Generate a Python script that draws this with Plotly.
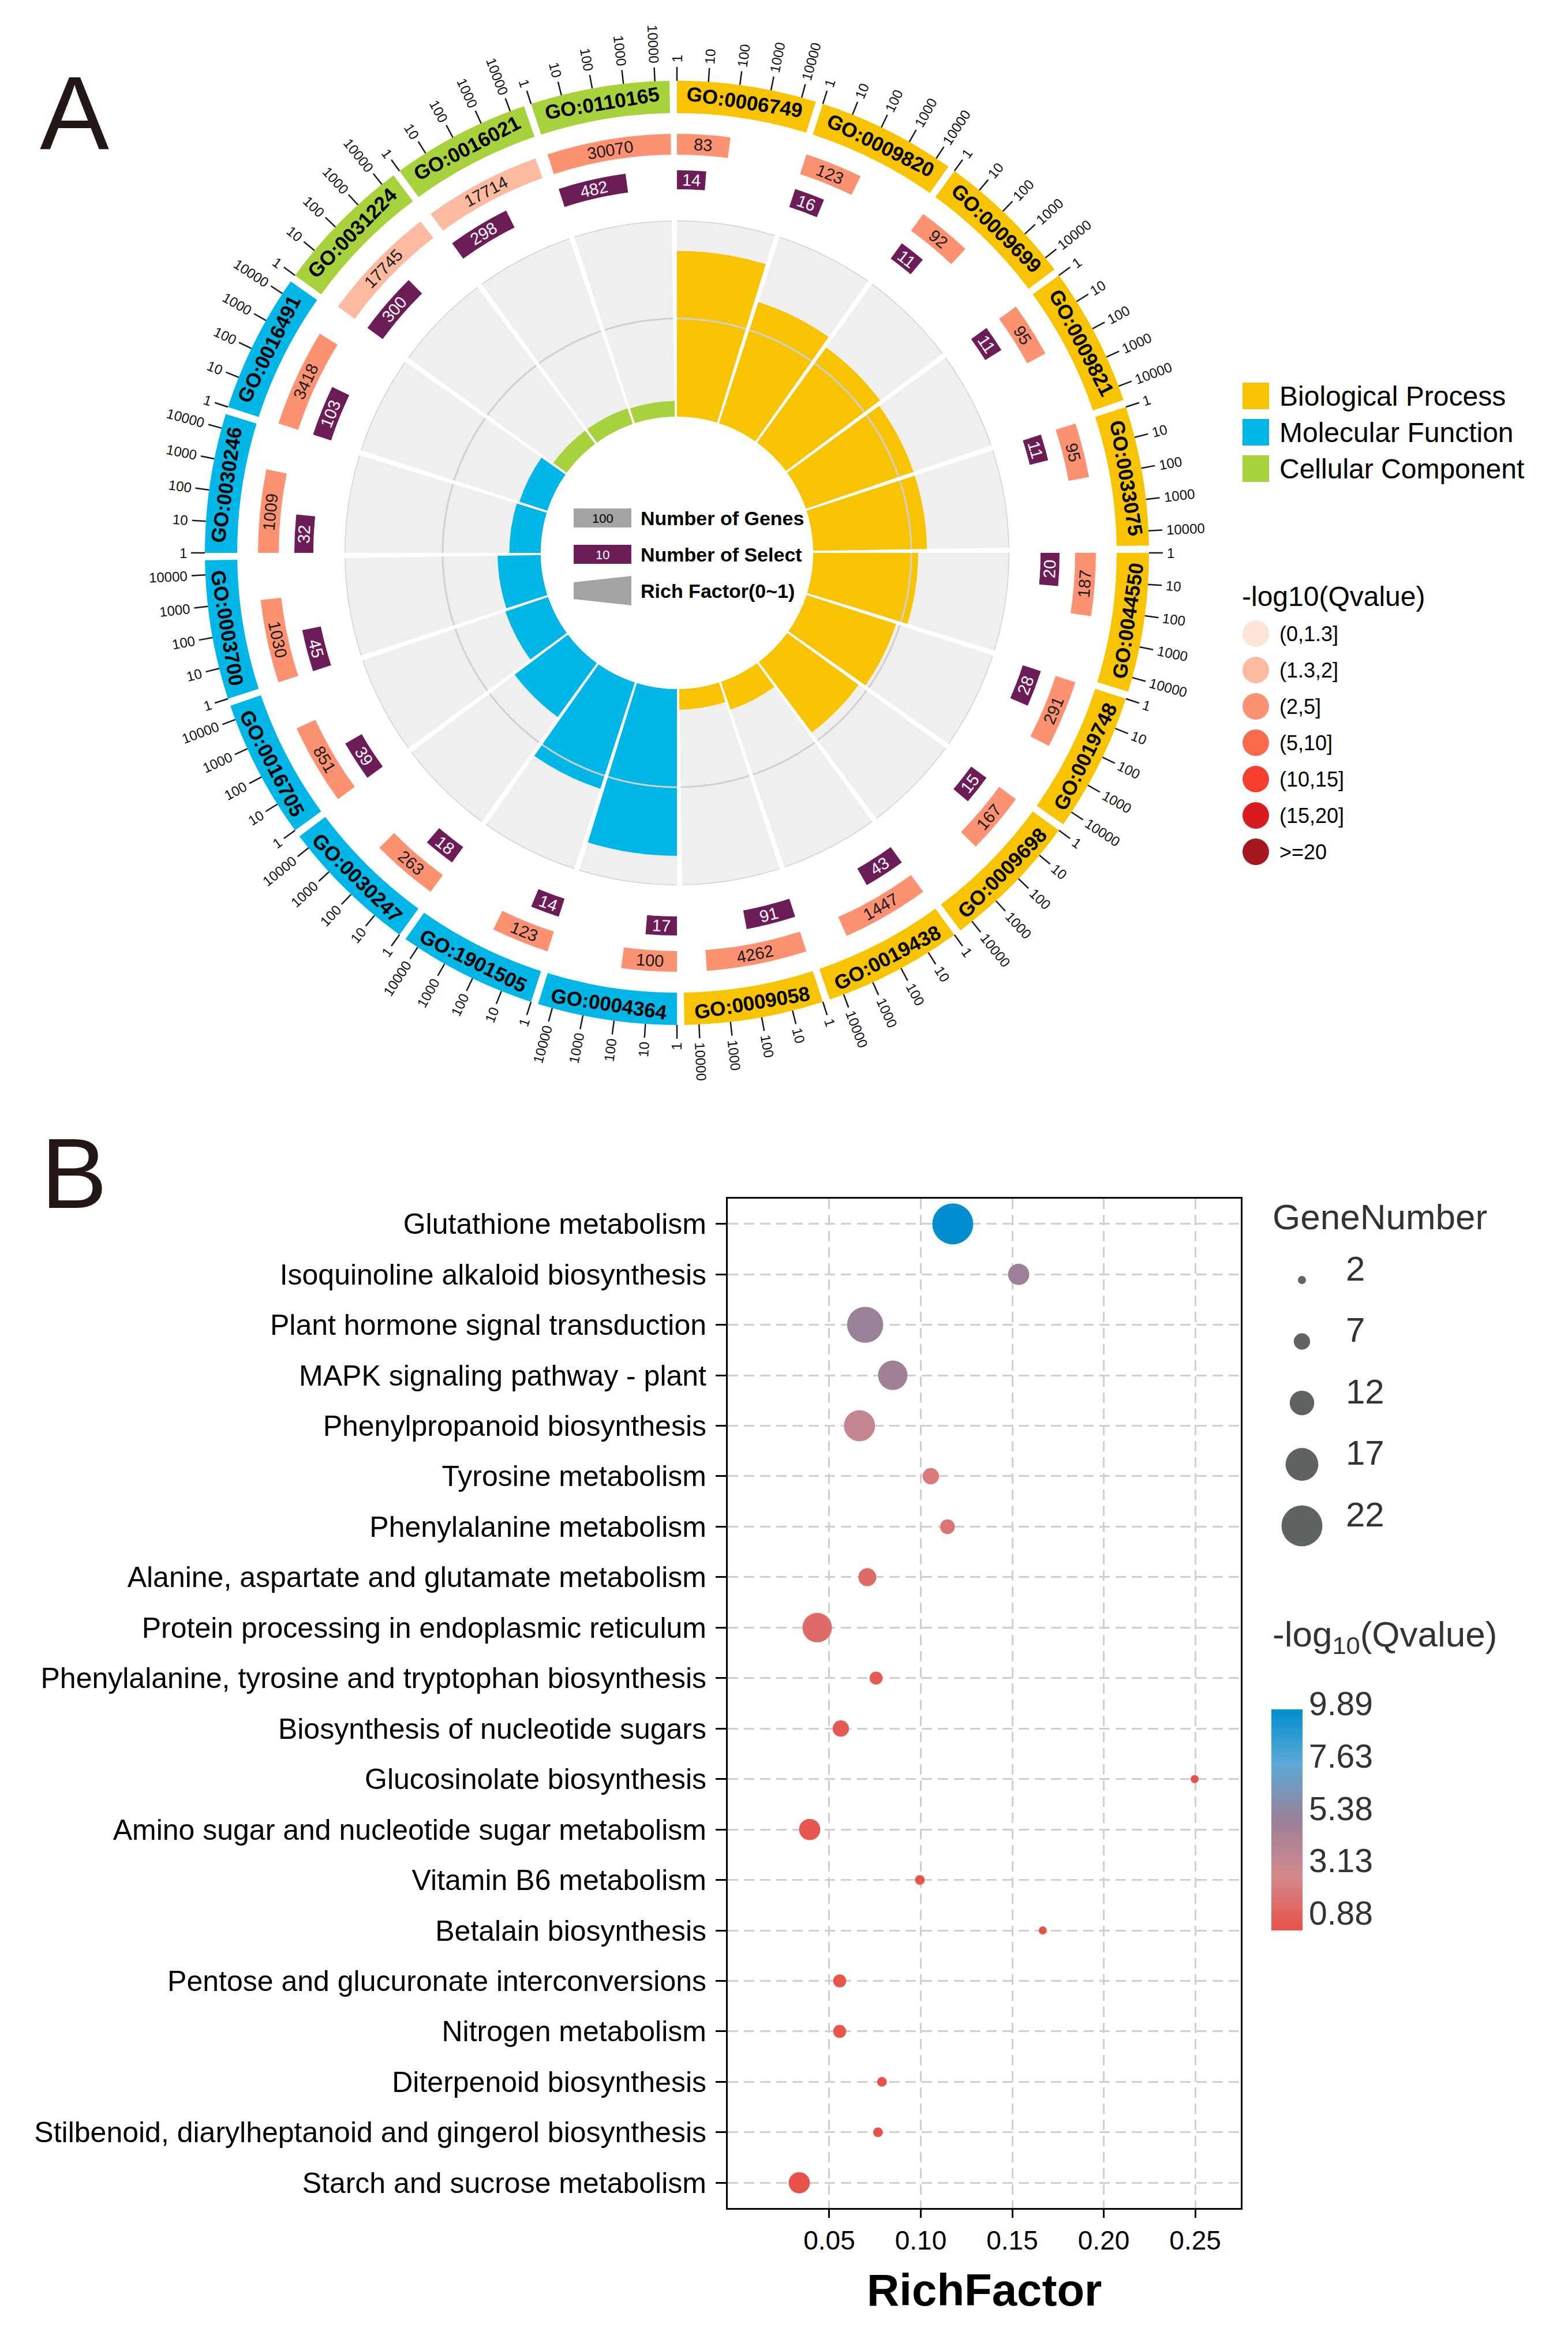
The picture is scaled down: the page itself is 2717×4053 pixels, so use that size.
import math
import plotly.graph_objects as go

W, H = 2717, 4053
FONT = "Liberation Sans, Arial, sans-serif"
NARROW = "Liberation Sans Narrow, Liberation Sans, Arial, sans-serif"

# ---------------- Panel A data ----------------
go_terms = ["GO:0006749", "GO:0009820", "GO:0009699", "GO:0009821", "GO:0033075",
            "GO:0044550", "GO:0019748", "GO:0009698", "GO:0019438", "GO:0009058",
            "GO:0004364", "GO:1901505", "GO:0030247", "GO:0016705", "GO:0003700",
            "GO:0030246", "GO:0016491",
            "GO:0031224", "GO:0016021", "GO:0110165"]
go_class = ["Biological Process"] * 10 + ["Molecular Function"] * 7 + ["Cellular Component"] * 3
num_genes = [83, 123, 92, 95, 95, 187, 291, 167, 1447, 4262,
             100, 123, 263, 851, 1030, 1009, 3418,
             17745, 17714, 30070]
num_select = [14, 16, 11, 11, 11, 20, 28, 15, 43, 91,
              17, 14, 18, 39, 45, 32, 103,
              300, 298, 482]
rich_factor = [0.169, 0.130, 0.120, 0.116, 0.116, 0.107, 0.096, 0.090, 0.030, 0.021,
               0.170, 0.114, 0.068, 0.046, 0.044, 0.032, 0.030,
               0.017, 0.017, 0.016]
qvalue_bin = ["(2,5]"] * 17 + ["(1.3,2]", "(1.3,2]", "(2,5]"]
axis_ticks = [1, 10, 100, 1000, 10000]
class_names = ["Biological Process", "Molecular Function", "Cellular Component"]
class_colors = ["#F8C300", "#00B6E6", "#A8D23C"]
q_bins = ["(0,1.3]", "(1.3,2]", "(2,5]", "(5,10]", "(10,15]", "(15,20]", ">=20"]
q_bin_colors = ["#FDE3D8", "#FCBBA1", "#FC9272", "#FB6A4A", "#F5402F", "#D91B1F", "#A4171C"]

# ---------------- Panel B data ----------------
pathways = ["Glutathione metabolism", "Isoquinoline alkaloid biosynthesis",
            "Plant hormone signal transduction", "MAPK signaling pathway - plant",
            "Phenylpropanoid biosynthesis", "Tyrosine metabolism",
            "Phenylalanine metabolism", "Alanine, aspartate and glutamate metabolism",
            "Protein processing in endoplasmic reticulum",
            "Phenylalanine, tyrosine and tryptophan biosynthesis",
            "Biosynthesis of nucleotide sugars", "Glucosinolate biosynthesis",
            "Amino sugar and nucleotide sugar metabolism", "Vitamin B6 metabolism",
            "Betalain biosynthesis", "Pentose and glucuronate interconversions",
            "Nitrogen metabolism", "Diterpenoid biosynthesis",
            "Stilbenoid, diarylheptanoid and gingerol biosynthesis",
            "Starch and sucrose metabolism"]
path_rich = [0.1175, 0.1535, 0.0696, 0.0847, 0.0665, 0.1055, 0.1146, 0.0708, 0.0434, 0.0756,
             0.0563, 0.2497, 0.0393, 0.0995, 0.1667, 0.0557, 0.0557, 0.0788, 0.0766, 0.0336]
path_genes = [22, 10, 19, 15, 16, 7, 6, 8, 15, 5, 7, 2, 10, 3, 2, 5, 5, 3, 3, 10]
path_q = [9.89, 5.3, 5.4, 5.1, 3.8, 2.5, 2.3, 1.9, 1.9, 1.2, 1.2, 0.9, 1.1, 0.95, 0.9, 1.0, 1.0, 0.9, 0.9, 0.88]
size_breaks = [2, 7, 12, 17, 22]
q_breaks = [0.88, 3.13, 5.38, 7.63, 9.89]
q_colorscale = [[0.0, "#E8524A"], [0.25, "#D4898C"], [0.5, "#9A8099"], [0.75, "#5EA9D6"], [1.0, "#008ED0"]]

# ---------------- geometry (layout) ----------------
CX, CY = 1173, 958
R_HOLE, R_RF = 236, 576
R_SEL = (630, 663)
R_GEN = (690, 726)
R_GO = (762, 818)
R_TICK_END = 842
R_LAB = 849
R_OUT = 860
N = len(go_terms)
SECTOR = 360.0 / N
GAP = 0.9
BOX_W = SECTOR - GAP
DPD = SECTOR / 4.7  # degrees per log10 decade

cls_color = dict(zip(class_names, class_colors))
q_color = dict(zip(q_bins, q_bin_colors))
starts = [i * SECTOR for i in range(N)]
mids = [s + BOX_W / 2 for s in starts]


def xy(r, th):
    a = math.radians(th)
    return CX + r * math.sin(a), CY - r * math.cos(a)


def tangential(th):
    t = th % 360
    a = t if (t < 90 or t >= 270) else t - 180
    if a > 180:
        a -= 360
    return a


def radial(th):
    t = th % 360
    return t - 90 if t < 180 else t - 270


def dom(R):
    return dict(x=[(CX - R) / W, (CX + R) / W], y=[1 - (CY + R) / H, 1 - (CY - R) / H])


fig = go.Figure()
annotations = []
shapes = []


def ann(x, y, text, size, color="black", angle=0, xanchor="center", family=FONT):
    annotations.append(dict(x=x, y=y, xref="x2", yref="y2", text=text, showarrow=False,
                            textangle=angle, xanchor=xanchor, yanchor="middle",
                            font=dict(size=size, color=color, family=family)))


# ---- inner rich-factor ring ----
fig.add_trace(go.Barpolar(r=[0.2] * N, theta=mids, width=[BOX_W] * N,
                          marker=dict(color="#EFEFEF", line=dict(width=0)),
                          subplot="polar", hoverinfo="skip", showlegend=False))
for lvl in (0.1, 0.2):
    rr, tt = [], []
    for s in starts:
        for k in range(41):
            tt.append(s + BOX_W * k / 40)
            rr.append(lvl)
        tt.append(None)
        rr.append(None)
    fig.add_trace(go.Scatterpolar(r=rr, theta=tt, mode="lines", cliponaxis=False,
                                  line=dict(color="#D0D0D0", width=3), subplot="polar",
                                  hoverinfo="skip", showlegend=False))
fig.add_trace(go.Barpolar(r=rich_factor, theta=mids, width=[BOX_W] * N,
                          marker=dict(color=[cls_color[c] for c in go_class], line=dict(width=0)),
                          subplot="polar", showlegend=False))

# ---- outer rings ----
sel_w = [math.log10(v) * DPD for v in num_select]
gen_w = [math.log10(v) * DPD for v in num_genes]
fig.add_trace(go.Barpolar(r=[R_SEL[1] - R_SEL[0]] * N, base=[R_SEL[0]] * N,
                          theta=[s + w / 2 for s, w in zip(starts, sel_w)], width=sel_w,
                          marker=dict(color="#6C1D57", line=dict(width=0)),
                          subplot="polar2", showlegend=False))
fig.add_trace(go.Barpolar(r=[R_GEN[1] - R_GEN[0]] * N, base=[R_GEN[0]] * N,
                          theta=[s + w / 2 for s, w in zip(starts, gen_w)], width=gen_w,
                          marker=dict(color=[q_color[b] for b in qvalue_bin], line=dict(width=0)),
                          subplot="polar2", showlegend=False))
fig.add_trace(go.Barpolar(r=[R_GO[1] - R_GO[0]] * N, base=[R_GO[0]] * N,
                          theta=mids, width=[BOX_W] * N,
                          marker=dict(color=[cls_color[c] for c in go_class], line=dict(width=0)),
                          subplot="polar2", showlegend=False))
tr, tt = [], []
for s in starts:
    for t in axis_ticks:
        ph = s + math.log10(t) * DPD
        tr += [R_GO[1], R_TICK_END, None]
        tt += [ph, ph, None]
fig.add_trace(go.Scatterpolar(r=tr, theta=tt, mode="lines", cliponaxis=False,
                              line=dict(color="#1A1A1A", width=2.5), subplot="polar2",
                              hoverinfo="skip", showlegend=False))

# ring texts
for i in range(N):
    s = starts[i]
    x, y = xy((R_GO[0] + R_GO[1]) / 2, mids[i])
    ann(x, y, "<b>%s</b>" % go_terms[i], 35, "black", tangential(mids[i]))
    th = s + gen_w[i] / 2
    x, y = xy((R_GEN[0] + R_GEN[1]) / 2, th)
    ann(x, y, str(num_genes[i]), 29, "#1A1A1A", tangential(th), family=NARROW)
    th = s + sel_w[i] / 2
    x, y = xy((R_SEL[0] + R_SEL[1]) / 2, th)
    ann(x, y, str(num_select[i]), 29, "white", tangential(th), family=NARROW)
    for t in axis_ticks:
        ph = s + math.log10(t) * DPD
        txt = str(t)
        wtxt = len(txt) * 0.556 * 24
        x, y = xy(R_LAB + wtxt / 2, ph)
        ann(x, y, txt, 24, "#111111", radial(ph))

# center legend
shapes.append(dict(type="rect", xref="x2", yref="y2", x0=994, x1=1094, y0=881, y1=914,
                   fillcolor="#A3A5A4", line=dict(width=0)))
shapes.append(dict(type="rect", xref="x2", yref="y2", x0=994, x1=1094, y0=944, y1=977,
                   fillcolor="#6C1D57", line=dict(width=0)))
shapes.append(dict(type="path", xref="x2", yref="y2",
                   path="M 994 1009 L 1094 998 L 1094 1049 L 994 1038 Z",
                   fillcolor="#A3A5A4", line=dict(width=0)))
ann(1044, 898, "100", 22, "black")
ann(1044, 961, "10", 22, "white")
ann(1108, 898, "<b>Number of Genes</b>", 34, "black", xanchor="left")
ann(1108, 961, "<b>Number of Select</b>", 34, "black", xanchor="left")
ann(1108, 1024, "<b>Rich Factor(0~1)</b>", 34, "black", xanchor="left")

# right legends (panel A)
for k, (nm, col) in enumerate(zip(class_names, class_colors)):
    yc = 686 + 63 * k
    shapes.append(dict(type="rect", xref="x2", yref="y2", x0=2153, x1=2199, y0=yc - 23, y1=yc + 23,
                       fillcolor=col, line=dict(width=0)))
    ann(2215, yc, nm, 48, "black", xanchor="left")
ann(2150, 1033, "-log10(Qvalue)", 48, "black", xanchor="left")
for k, (nm, col) in enumerate(zip(q_bins, q_bin_colors)):
    yc = 1098 + 63 * k
    shapes.append(dict(type="circle", xref="x2", yref="y2", x0=2153, x1=2199, y0=yc - 23, y1=yc + 23,
                       fillcolor=col, line=dict(width=0)))
    ann(2215, yc, nm, 36, "black", xanchor="left")

# panel letters
ann(129, 195, "A", 180, "#231815")
ann(128, 2033, "B", 172, "#231815")

# ---------------- Panel B ----------------
def size_px(n):
    return 8.3 + 2.85 * n


CB_TOP, CB_BOT = 2962, 3345
fig.add_trace(go.Scatter(
    x=path_rich, y=pathways, mode="markers", xaxis="x", yaxis="y", cliponaxis=False,
    marker=dict(size=[size_px(n) for n in path_genes], sizemode="diameter",
                color=path_q, colorscale=q_colorscale, cmin=q_breaks[0], cmax=q_breaks[-1],
                opacity=1, line=dict(width=0),
                colorbar=dict(x=2203 / W, xanchor="left", y=1 - (CB_TOP + CB_BOT) / 2 / H,
                              yanchor="middle",
                              len=CB_BOT - CB_TOP, lenmode="pixels", thickness=54,
                              thicknessmode="pixels", outlinewidth=0, tickvals=q_breaks,
                              showticklabels=False, ticks="", xpad=0, ypad=0)),
    showlegend=False))
# colorbar labels (sit slightly above their stops, as in the reference)
for v in q_breaks:
    yv = 3315 - (v - q_breaks[0]) / (q_breaks[-1] - q_breaks[0]) * 363
    ann(2266, yv, "%.2f" % v, 57, "#333333", xanchor="left")

# size legend keys
leg_y = [2218 + 106.5 * k for k in range(len(size_breaks))]
fig.add_trace(go.Scatter(x=[2256] * len(size_breaks), y=leg_y, mode="markers",
                         xaxis="x2", yaxis="y2", cliponaxis=False,
                         marker=dict(size=[size_px(v) for v in size_breaks], color="#5F6362",
                                     opacity=1, line=dict(width=0)),
                         hoverinfo="skip", showlegend=False))
for v, yv in zip(size_breaks, leg_y):
    ann(2330, yv - 20, str(v), 60, "#333333", xanchor="left")
ann(2203, 2108, "GeneNumber", 62, "#333333", xanchor="left")
ann(2203, 2836, "-log<sub>10</sub>(Qvalue)", 62, "#333333", xanchor="left")
ann(1705, 3968, "<b>RichFactor</b>", 78, "black")

fig.update_layout(
    width=W, height=H, autosize=False, template="none",
    margin=dict(l=0, r=0, t=0, b=0, pad=0),
    paper_bgcolor="white", plot_bgcolor="rgba(0,0,0,0)",
    font=dict(family=FONT, color="black"),
    showlegend=False,
    polar=dict(domain=dom(R_RF), hole=R_HOLE / R_RF, bgcolor="rgba(0,0,0,0)", barmode="overlay",
               radialaxis=dict(range=[0, 0.2], visible=False),
               angularaxis=dict(rotation=90, direction="clockwise", visible=False)),
    polar2=dict(domain=dom(R_OUT), hole=R_SEL[0] / R_OUT, bgcolor="rgba(0,0,0,0)", barmode="overlay",
                radialaxis=dict(range=[R_SEL[0], R_OUT], visible=False),
                angularaxis=dict(rotation=90, direction="clockwise", visible=False)),
    xaxis=dict(domain=[1261 / W, 2150 / W], anchor="y", range=[-0.0055, 0.2749],
               tickvals=[0.05, 0.10, 0.15, 0.20, 0.25], ticktext=["0.05", "0.10", "0.15", "0.20", "0.25"],
               showgrid=True, gridcolor="#CFCFCF", griddash="18px,10px", gridwidth=3,
               showline=True, mirror=True, linecolor="black", linewidth=3,
               ticks="outside", ticklen=14, tickwidth=3, tickcolor="black",
               tickfont=dict(size=46, color="black"), zeroline=False),
    yaxis=dict(domain=[1 - 3826 / H, 1 - 2077 / H], anchor="x", type="category",
               categoryorder="array", categoryarray=pathways, range=[19.5, -0.5],
               showgrid=True, gridcolor="#CFCFCF", griddash="18px,10px", gridwidth=3,
               showline=True, mirror=True, linecolor="black", linewidth=3,
               ticks="outside", ticklen=18, tickwidth=3, tickcolor="black",
               tickfont=dict(size=50, color="black"), zeroline=False, ticklabelstandoff=6),
    xaxis2=dict(domain=[0, 1], anchor="y2", range=[0, W], visible=False, fixedrange=True),
    yaxis2=dict(domain=[0, 1], anchor="x2", range=[H, 0], visible=False, fixedrange=True),
    annotations=annotations, shapes=shapes,
)

fig.write_html("out.html", config={"displayModeBar": False},
               post_script="document.body.style.margin='0';document.documentElement.style.overflow='hidden';document.body.style.overflow='hidden';")
